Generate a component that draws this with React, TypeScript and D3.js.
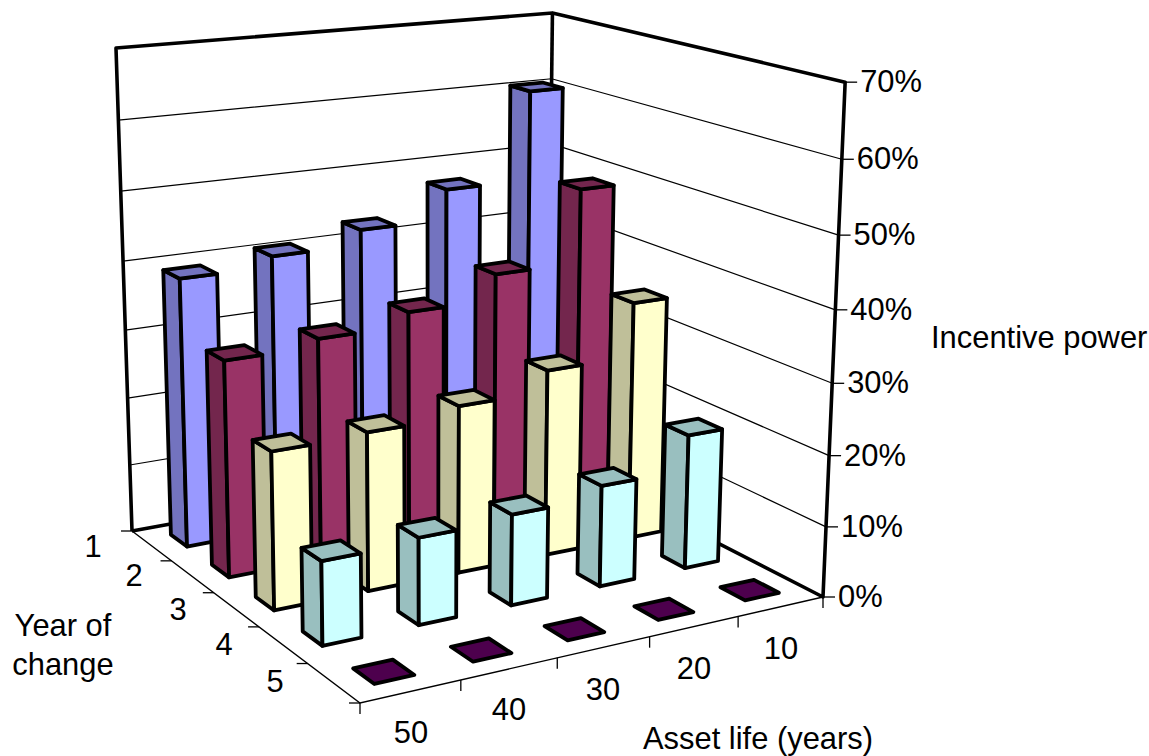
import React from "react";
import * as d3 from "d3";

// Row and column categories of the 3D column chart
const years = ["1", "2", "3", "4", "5"];
const assetLives = ["50", "40", "30", "20", "10"];
const percentTicks = [0, 10, 20, 30, 40, 50, 60, 70];

// Incentive power (%) per year of change, ordered by asset life 50 down to 10
const year1 = [39.1, 40.6, 42.8, 47.2, 60.4];
const year2 = [30.9, 32, 33.9, 37.6, 48.4];
const year3 = [22.1, 22.5, 24, 27, 34.8];
const year4 = [11.5, 12.1, 12.8, 14.4, 19.3];
const year5 = [0, 0, 0, 0, 0];
const seriesValues = [year1, year2, year3, year4, year5];

const frontColors = ["#9999ff", "#993366", "#ffffcc", "#ccffff", "#660066"];
const darkColors = ["#7373bf", "#73264d", "#bfbf99", "#99bfbf", "#4d004d"];

type Pt = [number, number];

// Floor quad and the top-left wall corner that fix the projection
const floorA: Pt = [132, 531];
const floorB: Pt = [360, 703];
const floorC: Pt = [823, 597];
const floorD: Pt = [547, 455.5];
const wallTopLeft: Pt = [116, 48];
const verticalVanish: Pt = [434, 9640];

function makeProjection() {
  const [x0, y0] = floorA;
  const [x1, y1] = floorB;
  const [x2, y2] = floorC;
  const [x3, y3] = floorD;
  const sx = x0 - x1 + x2 - x3;
  const sy = y0 - y1 + y2 - y3;
  const dx1 = x1 - x2;
  const dx2 = x3 - x2;
  const dy1 = y1 - y2;
  const dy2 = y3 - y2;
  const det = dx1 * dy2 - dx2 * dy1;
  const g = (sx * dy2 - dx2 * sy) / det;
  const h = (dx1 * sy - sx * dy1) / det;
  const a = x1 - x0 + g * x1;
  const b = x3 - x0 + h * x3;
  const d = y1 - y0 + g * y1;
  const e = y3 - y0 + h * y3;
  const s = (wallTopLeft[1] - y0) / (verticalVanish[1] - wallTopLeft[1]);
  return (u: number, v: number, z: number): Pt => {
    const w = g * u + h * v + 1 + z * s;
    return [
      (a * u + b * v + x0 + z * s * verticalVanish[0]) / w,
      (d * u + e * v + y0 + z * s * verticalVanish[1]) / w,
    ];
  };
}

const project = makeProjection();
const zScale = d3.scaleLinear().domain([0, 70]).range([0, 1]);
const uScale = d3.scaleBand<string>().domain(years).range([0, 1]).paddingInner(0.6).paddingOuter(0.3);
const vScale = d3.scaleBand<string>().domain(assetLives).range([0, 1]).paddingInner(0.6).paddingOuter(0.3);
const poly = (pts: Pt[]) => d3.line()(pts) + "Z";
const seg = (pts: Pt[]) => d3.line()(pts) as string;

const FONT = "'Liberation Sans', Arial, sans-serif";
const FS = 30.9;

export default function App() {
  const P = (u: number, v: number, pct: number) => project(u, v, zScale(pct));
  const A = P(0, 0, 0), B = P(1, 0, 0), C = P(1, 1, 0), D = P(0, 1, 0);
  const F = P(0, 0, 70), E = P(0, 1, 70), G = P(1, 1, 70);
  const uStep = uScale.step();
  const vStep = vScale.step();

  const yearLabelPos: Pt[] = [[93, 557], [134, 586], [178, 620], [224, 655], [275, 692]];
  const assetLabelPos: Pt[] = [[411, 743], [509, 720], [603, 700], [694, 679], [781, 659]];

  return (
    <svg width={1149} height={756} style={{ position: "absolute", left: 0, top: 0, display: "block" }} fontFamily={FONT} fontSize={FS} fill="#000">
      {/* gridlines on the two back walls */}
      {percentTicks.filter((t) => t > 0 && t < 70).map((t) => (
        <path key={t} d={seg([P(0, 0, t), P(0, 1, t), P(1, 1, t)])} fill="none" stroke="#000" strokeWidth={1.2} />
      ))}
      {/* wall frame */}
      <path d={seg([A, F, E, G, C, D, A])} fill="none" stroke="#000" strokeWidth={3.6} strokeLinejoin="round" />
      <path d={seg([D, E])} fill="none" stroke="#000" strokeWidth={3.6} />
      {/* floor front edges */}
      <path d={seg([A, B, C])} fill="none" stroke="#000" strokeWidth={1.4} />

      {/* year ticks */}
      {d3.range(0, 6).map((i) => {
        const p = P(i * uStep, 0, 0);
        return <path key={i} d={seg([[p[0] - 11, p[1]], p])} stroke="#000" strokeWidth={1.3} fill="none" />;
      })}
      {/* asset life ticks */}
      {d3.range(0, 6).map((i) => {
        const p = P(1, i * vStep, 0);
        return <path key={i} d={seg([p, [p[0], p[1] + 11]])} stroke="#000" strokeWidth={1.3} fill="none" />;
      })}
      {/* percent ticks and labels */}
      {percentTicks.map((t) => {
        const p = P(1, 1, t);
        return (
          <g key={t}>
            <path d={seg([p, [p[0] + 12, p[1]]])} stroke="#000" strokeWidth={1.3} fill="none" />
            <text x={p[0] + 15} y={p[1] + 10}>{t}%</text>
          </g>
        );
      })}

      {/* columns, back row first, far column first */}
      {years.map((yr, r) =>
        assetLives.map((al, c) => ({ al, c })).reverse().map(({ al, c }) => {
          const val = seriesValues[r][c];
          const u0 = uScale(yr)!;
          const u1 = u0 + uScale.bandwidth();
          const v0 = vScale(al)!;
          const v1 = v0 + vScale.bandwidth();
          const side = [P(u0, v0, val), P(u1, v0, val), P(u1, v0, 0), P(u0, v0, 0)];
          const front = [P(u1, v0, val), P(u1, v1, val), P(u1, v1, 0), P(u1, v0, 0)];
          const top = [P(u0, v0, val), P(u0, v1, val), P(u1, v1, val), P(u1, v0, val)];
          return (
            <g key={yr + al} stroke="#000" strokeWidth={3.8} strokeLinejoin="round">
              {val > 0 && <path d={poly(side)} fill={darkColors[r]} />}
              {val > 0 && <path d={poly(front)} fill={frontColors[r]} />}
              <path d={poly(top)} fill={darkColors[r]} />
            </g>
          );
        })
      )}

      {years.map((y, i) => (
        <text key={y} x={yearLabelPos[i][0]} y={yearLabelPos[i][1]} textAnchor="middle">{y}</text>
      ))}
      {assetLives.map((a, i) => (
        <text key={a} x={assetLabelPos[i][0]} y={assetLabelPos[i][1]} textAnchor="middle">{a}</text>
      ))}
      <text x={63} y={636} textAnchor="middle">Year of</text>
      <text x={63} y={675} textAnchor="middle">change</text>
      <text x={643} y={749}>Asset life (years)</text>
      <text x={931} y={348}>Incentive power</text>
    </svg>
  );
}
